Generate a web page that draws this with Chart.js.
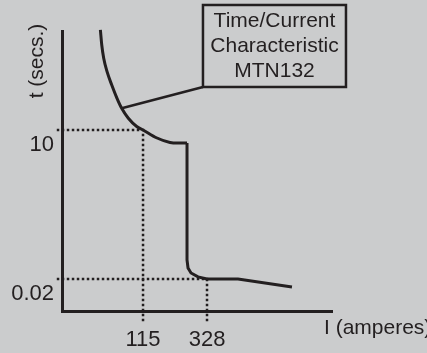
<!DOCTYPE html>
<html>
<head>
<meta charset="utf-8">
<script src="https://cdn.jsdelivr.net/npm/chart.js@4.4.1/dist/chart.umd.min.js"></script>
<style>
    html, body { margin: 0; padding: 0; background: #cbcccd; }
    #wrap { width: 427px; height: 353px; }
</style>
</head>
<body>
<div id="wrap"><canvas id="tcChart" width="427" height="353"></canvas></div>
<script>
// Time/current characteristic (log-log: current in A, time in s)
const curveCurrent = [57.2, 58.5, 60.4, 63.8, 68.9, 75.1, 81.1, 90.4, 103.7, 115, 144.6, 178.9, 204, 236.4];
const curveTime    = [648, 346, 199, 113.8, 65.3, 37.5, 24.7, 16.3, 11.57, 10, 7.16, 5.94, 5.81, 5.81];

// instantaneous trip: vertical drop, knee, flat tail
const tripCurrent = [236.4, 236.4, 240.3, 252.4, 283.0, 328, 544.9, 1319];
const tripTime    = [5.81, 0.0442, 0.0317, 0.0257, 0.0218, 0.02, 0.02, 0.0143];

const currentTicks = [115, 328];
const timeTicks = [0.02, 10];

// axis ranges
const currentRange = [30.5, 2541];
const timeRange = [0.00526, 621];

// dotted guides run a little past the axes
const guideCurrentStart = 28;
const guideTimeEnd = 0.00333;

// leader line from the curve to the label box
const leaderCurrent = [81.1, 307];
const leaderTime = [24.7, 60.1];

const boxLines = ['Time/Current', 'Characteristic', 'MTN132'];

const ink = '#231f20';
const font = '"Liberation Sans", Arial, Helvetica, sans-serif';

function toPoints(xs, ys) {
    return xs.map((v, i) => ({ x: v, y: ys[i] }));
}

function lineSet(points, extra) {
    return {
        data: points,
        showLine: true,
        borderColor: ink,
        borderWidth: 3,
        pointRadius: 0,
        tension: 0,
        clip: false,
        ...extra
    };
}

const labelPlugin = {
    id: 'tcLabels',
    afterDraw(chart) {
        const { ctx, chartArea, scales: { x, y } } = chart;
        ctx.save();
        ctx.fillStyle = ink;
        ctx.strokeStyle = ink;
        ctx.font = '21px ' + font;

        // label box hangs from the leader end
        const bx = x.getPixelForValue(leaderCurrent[1]);
        const by = y.getPixelForValue(leaderTime[1]);
        const bw = 143, bh = 82;
        ctx.lineWidth = 2.5;
        ctx.strokeRect(bx, by - bh, bw, bh);
        ctx.textAlign = 'center';
        ctx.textBaseline = 'middle';
        boxLines.forEach((t, i) => ctx.fillText(t, bx + bw / 2, by - bh + 16 + i * 25));

        // axis titles
        ctx.textAlign = 'left';
        ctx.fillText('I (amperes)', chartArea.right - 8, chartArea.bottom + 17);

        ctx.translate(chartArea.left - 25, chartArea.top + 30);
        ctx.rotate(-Math.PI / 2);
        ctx.textAlign = 'center';
        ctx.fillText('t (secs.)', 0, 0);
        ctx.restore();
    }
};

new Chart(document.getElementById('tcChart'), {
    type: 'scatter',
    data: {
        datasets: [
            lineSet([
                { x: guideCurrentStart, y: timeTicks[1] },
                { x: currentTicks[0], y: timeTicks[1] },
                { x: currentTicks[0], y: guideTimeEnd }
            ], { borderWidth: 2.5, borderDash: [2.5, 2.5] }),
            lineSet([
                { x: guideCurrentStart, y: timeTicks[0] },
                { x: currentTicks[1], y: timeTicks[0] },
                { x: currentTicks[1], y: guideTimeEnd }
            ], { borderWidth: 2.5, borderDash: [2.5, 2.5] }),
            lineSet(toPoints(curveCurrent, curveTime), { cubicInterpolationMode: 'monotone' }),
            lineSet(toPoints(tripCurrent, tripTime)),
            lineSet(toPoints(leaderCurrent, leaderTime), { borderWidth: 2.5 })
        ]
    },
    options: {
        responsive: false,
        animation: false,
        layout: { padding: { left: 0, top: 31, right: 95, bottom: 0 } },
        plugins: {
            legend: { display: false },
            tooltip: { enabled: false }
        },
        scales: {
            x: {
                type: 'logarithmic',
                min: currentRange[0],
                max: currentRange[1],
                bounds: 'data',
                grid: { display: false, drawTicks: false },
                border: { display: true, color: ink, width: 3 },
                afterBuildTicks: (scale) => { scale.ticks = currentTicks.map(v => ({ value: v })); },
                afterFit: (scale) => { scale.height = 42; },
                ticks: {
                    color: ink,
                    padding: 16,
                    maxRotation: 0,
                    autoSkip: false,
                    font: { family: font, size: 22 },
                    callback: (v) => String(v)
                }
            },
            y: {
                type: 'logarithmic',
                min: timeRange[0],
                max: timeRange[1],
                bounds: 'data',
                grid: { display: false, drawTicks: false },
                border: { display: true, color: ink, width: 3 },
                afterBuildTicks: (scale) => { scale.ticks = timeTicks.map(v => ({ value: v })); },
                afterFit: (scale) => { scale.width = 62; },
                ticks: {
                    color: ink,
                    padding: 8,
                    labelOffset: 15,
                    autoSkip: false,
                    font: { family: font, size: 22 },
                    callback: (v) => String(v)
                }
            }
        }
    },
    plugins: [labelPlugin]
});
</script>
</body>
</html>
